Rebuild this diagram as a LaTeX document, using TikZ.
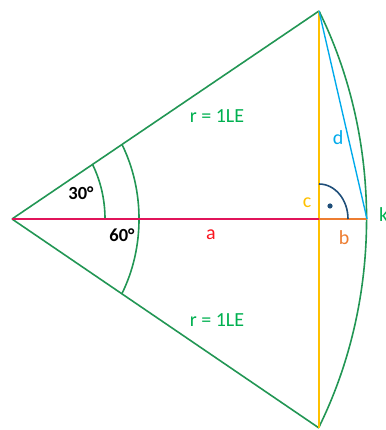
\documentclass[tikz,border=0pt]{standalone}
\usepackage{fontspec}
\setmainfont{Carlito}
\definecolor{lgreen}{RGB}{34,150,84}
\definecolor{tgreen}{RGB}{0,176,80}
\definecolor{lred}{RGB}{225,20,90}
\definecolor{tred}{RGB}{250,20,30}
\definecolor{lyellow}{RGB}{255,192,0}
\definecolor{lorange}{RGB}{237,125,49}
\definecolor{lblue}{RGB}{0,170,235}
\definecolor{dblue}{RGB}{31,78,121}
\tikzset{
  lbl/.style={inner sep=0pt, anchor=base, font=\fontsize{20}{23}\selectfont},
  ang/.style={inner sep=0pt, anchor=base, font=\fontsize{18.5}{21}\selectfont\bfseries},
  gline/.style={draw=lgreen, line width=1.6pt},
}
\begin{document}
\begin{tikzpicture}[x=1pt,y=1pt]
\useasboundingbox (0,0) rectangle (385,430);
\coordinate (O) at (12,211);
\coordinate (T) at (319,419);
\coordinate (B) at (319,2);
\coordinate (K) at (367,211);
\coordinate (F) at (319,211);
% radii and sector
\draw[gline] (O) -- (T);
\draw[gline] (O) -- (B);
\draw[gline] (T) arc[start angle=30, end angle=-30, x radius=355, y radius=416];
% angle arcs
\draw[gline] ([shift={(93,0)}]O) arc[start angle=0, end angle=30, x radius=93, y radius=109];
\draw[gline] ([shift={(110,-74.5)}]O) arc[start angle=-30, end angle=30, x radius=127, y radius=149];
% lines
\draw[lyellow, line width=1.6pt] (T) -- (B);
\draw[lred, line width=1.8pt] (O) -- (F);
\draw[lorange, line width=1.8pt] (F) -- (K);
\draw[lblue, line width=1.4pt] (T) -- (K);
% right angle
\draw[dblue, line width=1.6pt] ([shift={(29,0)}]F) arc[start angle=0, end angle=90, x radius=29, y radius=35];
\fill[dblue] (330,224) circle[radius=2.6];
% labels
\node[lbl, text=tgreen] (r1) at (217,307) {r = 1LE};
\node[lbl, text=tgreen] (r2) at (217,103) {r = 1LE};
\node[lbl, text=lblue] (d) at (338,285) {d};
\node[lbl, text=lyellow] (c) at (307,222) {c};
\node[lbl, text=lorange] (b) at (344,185) {b};
\node[lbl, text=tred] (a) at (211,190) {a};
\node[lbl, text=tgreen, anchor=base west] (k) at (379,208) {k};
\node[ang] (a30) at (81,230) {30°};
\node[ang] (a60) at (122,188) {60°};
\end{tikzpicture}
\end{document}
